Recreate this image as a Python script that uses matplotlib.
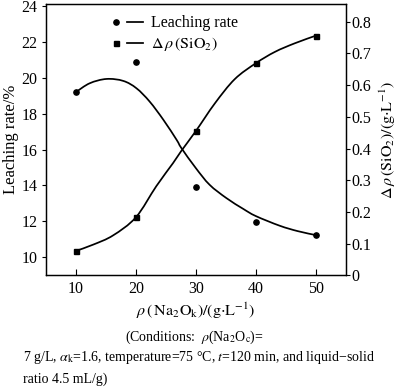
import matplotlib
matplotlib.use("Agg")
import matplotlib.pyplot as plt
import numpy as np
from matplotlib.lines import Line2D
from matplotlib.legend_handler import HandlerTuple
from matplotlib.path import Path
from matplotlib.patches import PathPatch

plt.rcParams['font.family'] = ['Liberation Serif', 'DejaVu Serif']
plt.rcParams['mathtext.fontset'] = 'stix'

# measured data
conc = [10, 20, 30, 40, 50]
leach_rate = [19.2, 20.9, 13.9, 11.94, 11.24]
d_sio2 = [0.077, 0.183, 0.455, 0.669, 0.756]

# fitted curves
leach_fit_x = [10, 12.3, 15.1, 17.9, 20.1, 22.3, 24.6, 26.8, 27.6, 30, 32.3, 35.1, 37.9, 40, 44, 47, 50]
leach_fit_y = [19.2, 19.69, 19.93, 19.82, 19.41, 18.67, 17.65, 16.54, 16.08, 14.97, 14.04, 13.3, 12.7, 12.3, 11.76, 11.46, 11.24]
sio2_fit_x = [10, 12.9, 16.2, 20, 23.4, 26.2, 27.6, 30, 33.2, 36.5, 40, 43.2, 46.5, 50]
sio2_fit_y = [0.077, 0.097, 0.126, 0.183, 0.281, 0.354, 0.393, 0.455, 0.543, 0.619, 0.669, 0.705, 0.732, 0.756]

x_ticks = [10, 20, 30, 40, 50]
left_ticks = [10, 12, 14, 16, 18, 20, 22, 24]
right_ticks = [0, 0.1, 0.2, 0.3, 0.4, 0.5, 0.6, 0.7, 0.8]
right_tick_labels = ['0', '0.1', '0.2', '0.3', '0.4', '0.5', '0.6', '0.7', '0.8']


def smooth_path(xs, ys):
    """Catmull-Rom spline through the read points, as a cubic Bezier path."""
    p = np.column_stack([xs, ys]).astype(float)
    verts = [p[0]]
    codes = [Path.MOVETO]
    n = len(p)
    for i in range(n - 1):
        p0 = p[i - 1] if i > 0 else p[i]
        p1 = p[i]
        p2 = p[i + 1]
        p3 = p[i + 2] if i + 2 < n else p[i + 1]
        c1 = p1 + (p2 - p0) / 6.0
        c2 = p2 - (p3 - p1) / 6.0
        verts += [c1, c2, p2]
        codes += [Path.CURVE4] * 3
    return Path(verts, codes)


fig = plt.figure(figsize=(4.0, 3.92), dpi=100)
ax = fig.add_axes([0.115, 0.2977, 0.749, 0.692])
ax2 = ax.twinx()

lw = 1.25
ax.add_patch(PathPatch(smooth_path(leach_fit_x, leach_fit_y), fill=False,
                       edgecolor='black', lw=lw))
ax.plot(conc, leach_rate, 'o', color='black', ms=3.8, ls='none')
ax2.add_patch(PathPatch(smooth_path(sio2_fit_x, sio2_fit_y), fill=False,
                        edgecolor='black', lw=lw))
ax2.plot(conc, d_sio2, 's', color='black', ms=3.6, ls='none')

ax.set_xlim(5, 55)
ax.set_ylim(9, 24.1)
ax2.set_ylim(0, 0.856)
ax.set_xticks(x_ticks)
ax.set_yticks(left_ticks)
ax2.set_yticks(right_ticks)
ax2.set_yticklabels(right_tick_labels)

fs = 11.5
ax.tick_params(axis='x', direction='in', length=4, width=0.8, labelsize=fs, pad=4)
ax.tick_params(axis='y', direction='out', length=3, width=0.8, labelsize=fs, pad=3)
ax2.tick_params(axis='y', direction='out', length=3, width=0.8, labelsize=fs, pad=1.5)
for a in (ax, ax2):
    for s in a.spines.values():
        s.set_linewidth(0.9)

ax.set_ylabel('Leaching rate/%', fontsize=12, labelpad=2)
ax2.set_ylabel(r'$\Delta\,\rho\,(\mathrm{SiO_2})/(\mathrm{g{\cdot}L^{-1}})$', fontsize=fs, labelpad=4)
ax.set_xlabel(r'$\rho\,(\,\mathrm{Na_2O_k})/(\mathrm{g{\cdot}L^{-1}})$', fontsize=fs, labelpad=3)

h1 = (Line2D([], [], marker='o', color='black', ms=3.8, ls='none'),
      Line2D([], [], color='black', lw=lw))
h2 = (Line2D([], [], marker='s', color='black', ms=3.6, ls='none'),
      Line2D([], [], color='black', lw=lw))
ax.legend([h1, h2], ['Leaching rate', r'$\Delta\,\rho\,(\mathrm{SiO_2})$'],
          handler_map={tuple: HandlerTuple(ndivide=None, pad=0.2)},
          loc='upper left', bbox_to_anchor=(0.17, 1.0), frameon=False,
          fontsize=fs, handlelength=2.2, handletextpad=0.5, labelspacing=0.25,
          borderaxespad=0.3)

cfs = 10.0
fig.text(194, 392 - 337, r'(Conditions:  $\rho$(Na$_2$O$_\mathrm{c}$)=', transform=None,
         fontsize=cfs, ha='center', va='center')
fig.text(23, 392 - 358, r'7 g/L, $\alpha_\mathrm{k}$=1.6, temperature=75 °C, $t$=120 min, and liquid−solid',
         transform=None, fontsize=cfs, ha='left', va='center')
fig.text(23, 392 - 379, 'ratio 4.5 mL/g)', transform=None, fontsize=cfs, ha='left', va='center')

fig.savefig('out.png', dpi=100)
